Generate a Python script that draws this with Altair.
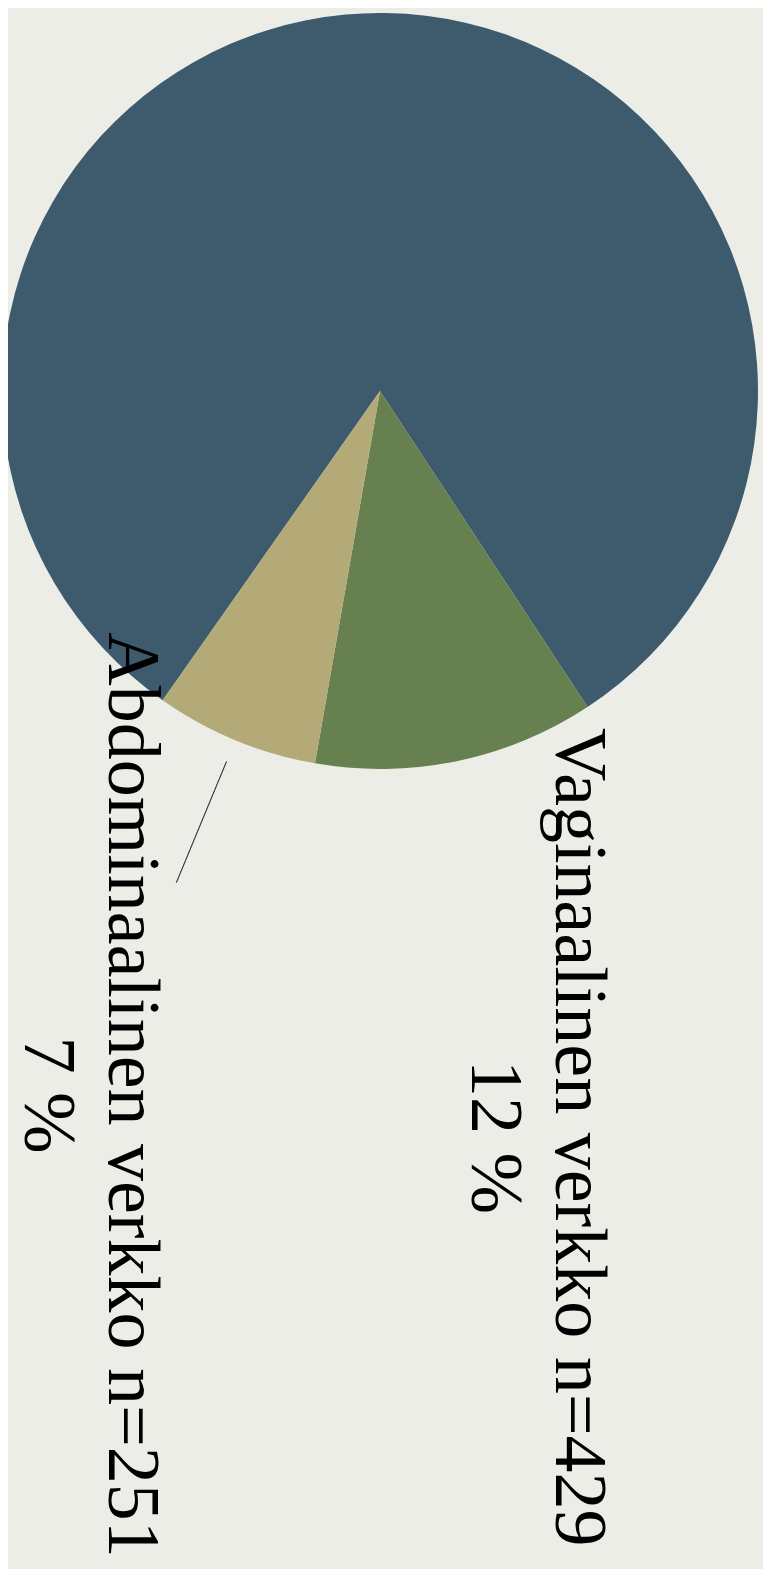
import math
import altair as alt
import pandas as pd

# ---- data ----
categories = ["Muu", "Vaginaalinen verkko", "Abdominaalinen verkko"]
counts = [None, 429, 251]
percents = [81, 12, 7]
colors = ["#3e5a6d", "#66804f", "#b4aa78"]
show_label = [False, True, True]
show_leader = [False, False, True]

start = 0.0
rows = []
for cat, n, p, col, lab, lead in zip(categories, counts, percents, colors, show_label, show_leader):
    end = start + p
    text = f"{cat} n={n}\n{p} %" if lab else ""
    rows.append(dict(cat=cat, pct=p, start=start, end=end, mid=(start + end) / 2,
                     text=text, leader=lead))
    start = end
df = pd.DataFrame(rows)

offset = 215.1 * math.pi / 180
theta_scale = alt.Scale(domain=[0, 100], range=[offset, offset + 2 * math.pi])
color_scale = alt.Scale(domain=categories, range=colors)

cx, cy = 372, 383

base = alt.Chart(df)

pie = base.mark_arc(outerRadius=378).encode(
    theta=alt.Theta("start:Q", scale=theta_scale, stack=None),
    theta2="end:Q",
    color=alt.Color("cat:N", scale=color_scale, legend=None),
    x=alt.value(cx),
    y=alt.value(cy),
)

leader = base.transform_filter("datum.leader").mark_arc(
    radius=532, radius2=401, fill=None, stroke="#333333", strokeWidth=0.8
).encode(
    theta=alt.Theta("mid:Q", scale=theta_scale, stack=None),
    theta2="mid:Q",
    x=alt.value(cx),
    y=alt.value(cy),
)

labels = base.mark_text(
    radius=762, angle=90, align="center", baseline="middle", dy=-43,
    font="Liberation Serif", fontSize=74, lineHeight=84, lineBreak="\n", color="#000000"
).encode(
    theta=alt.Theta("mid:Q", scale=theta_scale, stack=None),
    text="text:N",
    x=alt.value(cx),
    y=alt.value(cy),
)

chart = alt.layer(pie, leader, labels).properties(
    width=755, height=1561,
    autosize=alt.AutoSizeParams(type="none"),
    padding=0,
    background="#edede8",
).configure_view(stroke=None)

chart.save("out.html", embed_options={"renderer": "svg", "actions": False})
